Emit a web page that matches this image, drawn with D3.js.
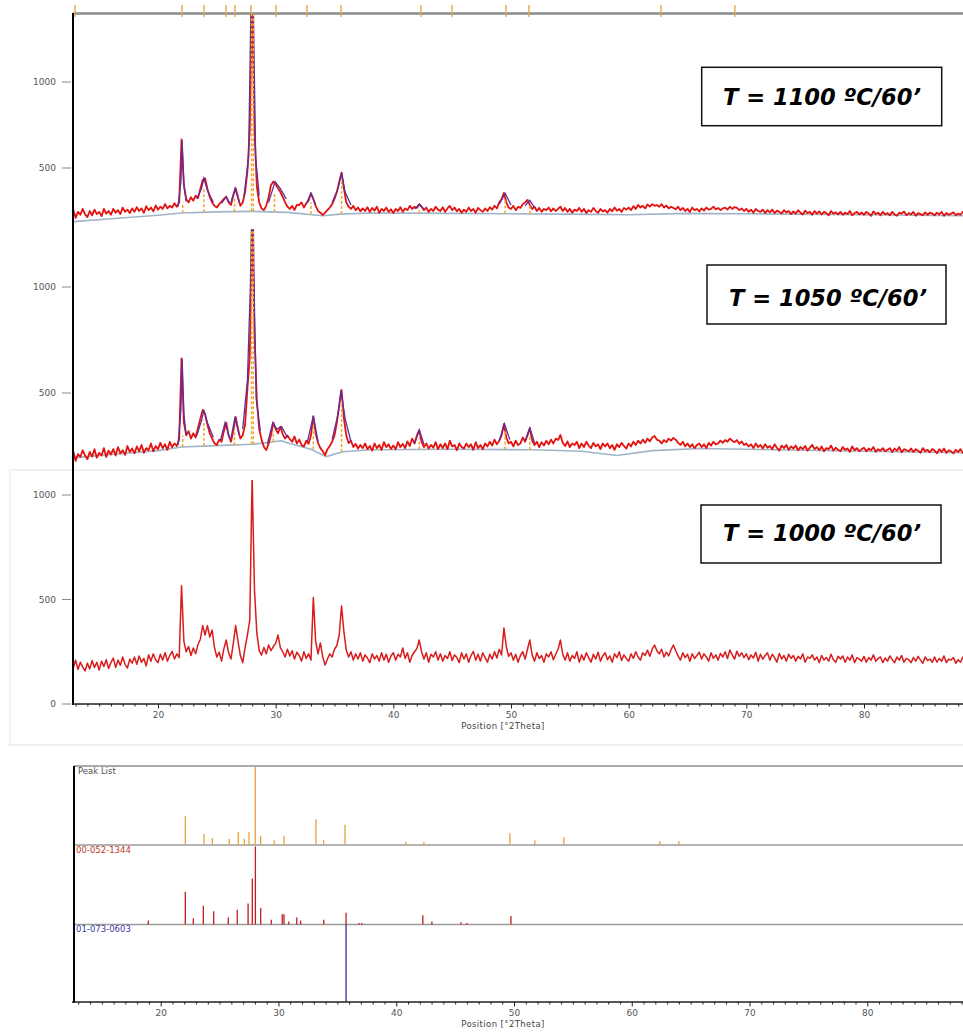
<!DOCTYPE html>
<html>
<head>
<meta charset="utf-8">
<script src="https://cdn.jsdelivr.net/npm/d3@7"></script>
<style>
  body { margin: 0; background: #fff; }
  svg { display: block; }
  text { font-family: "DejaVu Sans", sans-serif; }
</style>
</head>
<body>
<svg id="chart" width="963" height="1035"></svg>
<script>
// ------------------------------------
// Data (scan: 12.0 °2θ, step 0.2)
// ------------------------------------
const scanStart = 12.0;
const scanStep = 0.2;

const counts1100 = [
  240,215,250,222,258,210,245,228,262,230,
  215,250,225,258,232,245,220,262,235,250,
  228,262,240,255,232,270,245,258,238,265,
  245,272,250,265,240,278,255,270,248,282,
  258,275,262,290,265,280,270,295,275,300,
  667,400,320,300,330,310,340,325,380,430,
  440,380,330,300,280,271,290,305,320,333,
  300,285,340,382,330,280,300,360,480,721,
  1450,721,391,300,265,256,280,330,400,421,
  405,382,360,333,300,275,262,280,256,285,
  285,300,270,295,310,353,320,280,250,240,
  227,240,255,270,290,320,360,420,473,380,
  300,275,262,280,255,270,248,265,250,272,
  245,268,252,275,240,262,250,270,245,260,
  238,262,250,272,245,265,255,280,262,275,
  268,290,275,255,270,245,262,250,275,258,
  250,272,245,265,280,255,270,248,262,240,
  258,245,270,250,262,240,268,255,245,265,
  250,272,258,280,265,300,320,355,300,270,
  262,280,255,275,268,290,300,314,285,262,
  275,250,268,245,262,255,270,248,265,250,
  262,275,250,268,245,262,240,258,250,268,
  245,262,238,255,245,268,250,240,262,248,
  255,240,262,248,270,252,262,245,268,258,
  270,255,278,262,285,270,280,265,288,275,
  290,280,285,275,290,270,282,265,275,268,
  260,275,255,268,250,262,245,270,255,262,
  248,265,252,270,258,262,275,260,268,255,
  265,270,258,275,262,273,268,255,265,250,
  262,245,258,240,262,250,245,258,238,255,
  242,258,238,252,245,235,255,242,250,232,
  248,235,255,240,230,252,238,245,228,250,
  235,248,230,245,238,225,250,235,242,230,
  245,228,240,232,250,225,238,245,230,242,
  228,245,235,222,248,232,240,225,245,230,
  238,225,245,230,222,240,235,248,225,238,
  230,245,222,238,232,225,242,228,240,235,
  225,240,230,245,222,238,228,235,242,225,
  235,228,245,230,238
];

const counts1050 = [
  215,185,220,192,225,180,212,198,230,205,
  188,222,200,235,195,218,205,240,198,228,
  210,235,205,245,215,230,208,250,222,238,
  215,248,225,255,218,240,230,262,225,250,
  235,265,240,258,232,270,245,262,250,280,
  663,360,300,320,285,310,290,335,380,420,
  400,350,310,285,262,255,280,270,320,360,
  300,270,320,387,330,285,300,350,520,671,
  1300,783,467,330,280,245,231,260,300,360,
  330,310,341,305,285,300,283,270,295,262,
  280,255,247,275,260,300,391,310,265,240,
  225,207,235,250,270,300,360,440,514,380,
  300,264,275,245,260,238,255,240,262,235,
  250,228,262,240,255,232,268,245,258,236,
  252,235,268,245,260,240,272,250,285,262,
  300,325,270,245,262,238,255,242,268,235,
  258,240,262,235,275,248,255,230,262,245,
  238,262,245,258,232,268,240,255,235,262,
  248,270,252,280,258,275,300,354,290,262,
  270,248,275,255,262,290,270,300,335,275,
  255,270,245,268,252,275,258,280,262,285,
  278,302,265,250,272,245,262,255,270,240,
  262,245,270,252,240,265,248,258,235,262,
  248,262,240,255,232,258,245,265,250,238,
  262,248,270,255,275,262,280,265,285,272,
  290,297,280,275,262,278,268,285,275,288,
  280,265,255,270,248,262,245,258,240,255,
  262,245,258,240,265,252,270,258,262,275,
  265,278,270,285,275,268,278,260,272,255,
  262,248,258,240,262,245,255,238,258,242,
  250,235,258,242,228,252,240,255,232,248,
  238,252,230,245,235,250,228,242,255,235,
  245,230,248,225,240,235,252,228,242,232,
  225,245,232,238,222,248,230,240,225,235,
  242,225,238,230,245,222,235,228,240,225,
  232,240,222,238,228,245,220,235,230,225,
  238,222,235,228,218,240,225,232,220,236,
  228,215,235,222,238,218,230,225,215,232,
  222,235,218,228,225
];

const counts1000 = [
  170,205,160,198,172,210,165,200,178,158,
  195,168,208,175,200,162,205,180,212,170,
  198,220,175,210,185,225,190,172,215,195,
  225,190,230,200,218,182,235,205,240,212,
  198,238,210,245,205,232,252,215,240,222,
  566,300,250,275,232,268,240,285,310,375,
  330,375,320,354,270,225,248,205,265,306,
  245,215,290,375,300,232,198,270,330,402,
  1090,545,340,255,234,270,240,282,255,275,
  290,330,270,250,225,262,230,255,215,248,
  232,205,250,218,240,210,510,300,240,292,
  225,187,215,240,225,262,280,330,469,345,
  258,225,250,210,240,215,245,205,235,220,
  198,240,215,232,205,245,210,238,200,230,
  245,210,238,225,268,218,245,200,232,250,
  265,306,250,215,245,200,238,225,250,210,
  240,205,232,218,250,208,235,222,198,245,
  215,240,200,232,252,210,238,205,245,222,
  200,238,215,250,220,262,235,364,275,228,
  245,210,238,200,232,250,215,262,306,235,
  205,245,218,232,200,240,225,250,212,238,
  262,306,238,210,245,205,232,218,250,200,
  235,210,245,222,200,238,215,248,205,230,
  245,212,230,200,240,222,250,208,235,218,
  205,240,218,250,225,210,245,232,258,228,
  262,282,255,240,262,225,248,230,260,282,
  255,230,210,245,222,238,205,240,218,232,
  248,215,240,225,205,245,218,235,210,242,
  225,250,218,258,235,215,252,228,245,222,
  240,212,235,220,248,205,238,215,232,245,
  210,238,222,200,242,215,232,205,238,218,
  232,205,228,215,240,200,225,218,235,210,
  225,198,232,210,222,205,238,212,200,228,
  215,230,200,225,210,235,198,222,215,205,
  228,200,222,210,235,205,218,225,198,220,
  205,230,212,198,225,210,232,200,218,212,
  198,222,205,228,210,195,225,208,215,200,
  225,200,218,205,230,198,215,210,222,195,
  212,200,225,205,215
];

// fitted profiles around the peaks [°2θ, counts]
const fit1100 = [
  [[21.7,275],[21.95,420],[22.05,660],[22.2,400],[22.4,305]],
  [[23.3,320],[23.7,380],[23.9,440],[24.2,370],[24.7,300]],
  [[25.4,295],[25.8,333],[26.1,295]],
  [[26.2,300],[26.55,382],[26.9,300]],
  [[27.3,330],[27.7,560],[27.9,1450],[28.1,1450],[28.3,560],[28.6,340]],
  [[29.4,300],[29.95,421],[30.4,380],[30.9,320]],
  [[32.6,290],[33.0,353],[33.4,285]],
  [[34.8,300],[35.3,380],[35.6,473],[35.9,360],[36.4,285]],
  [[41.8,262],[42.2,288],[42.6,262]],
  [[49.0,290],[49.5,352],[50.0,285]],
  [[51.2,280],[51.6,312],[52.0,270]]
];
const fit1050 = [
  [[21.7,255],[21.95,420],[22.05,663],[22.2,400],[22.4,300]],
  [[23.3,300],[23.7,370],[23.9,420],[24.2,360],[24.7,290]],
  [[25.3,275],[25.7,360],[26.1,285]],
  [[26.2,285],[26.55,387],[26.9,300]],
  [[27.2,330],[27.6,560],[27.85,1000],[27.95,1300],[28.1,1300],[28.2,900],[28.35,470],[28.7,320]],
  [[29.3,260],[29.75,360],[30.1,330],[30.5,341],[31.0,290]],
  [[32.7,270],[33.2,391],[33.6,270]],
  [[34.8,280],[35.3,400],[35.55,514],[35.9,380],[36.4,270]],
  [[41.8,260],[42.2,325],[42.6,258]],
  [[49.0,275],[49.45,354],[49.9,280]],
  [[51.2,275],[51.6,335],[52.0,265]]
];

// background lines [°2θ, counts]
const bg1100 = [[12.8,188],[16,205],[20,225],[22,238],[25,245],[28,248],[31,242],[34,222],[35.5,232],[38,238],[45,236],[55,232],[60,228],[65,236],[70,234],[80,228],[88.6,222]];
const bg1050 = [[12.8,195],[16,210],[20,228],[22,245],[25,252],[28,258],[30.5,275],[31.2,262],[33,235],[34.3,200],[35.7,223],[38,232],[45,235],[52,232],[56,225],[59,205],[62,228],[66,238],[70,235],[80,225],[88.6,218]];

// peak markers [°2θ, from, to]
const marks1100 = [[22.1,238,300],[23.9,243,380],[26.5,246,330],[27.95,248,1450],[28.1,248,1450],[29.9,244,360],[33.0,232,300],[35.6,232,420],[42.2,237,270],[49.5,236,320],[51.6,234,290]];
const marks1050 = [[22.1,245,300],[23.9,250,370],[26.5,254,330],[27.95,258,1300],[28.1,258,1300],[29.8,270,320],[33.2,235,340],[35.6,222,460],[42.2,233,290],[49.5,234,320],[51.6,232,300]];

// reference pattern positions above the top scan
const topMarks = [12.95,22.04,23.9,25.78,26.54,27.9,30.03,32.66,35.55,42.34,44.98,49.57,51.52,62.74,69.02];

// peak list / reference patterns [°2θ, relative intensity %]
const peakList = [[22.09,37],[23.68,14],[24.38,9],[25.82,8],[26.59,17],[27.10,8],[27.50,17],[28.03,100],[28.49,12],[29.64,6],[30.47,12],[33.18,33],[33.84,6],[35.65,26],[40.82,4],[42.35,4],[49.65,15],[51.77,6],[54.23,10],[62.38,5],[64.0,5]];
const ref0521344 = [[18.95,5],[22.09,42],[22.77,8],[23.62,24],[24.5,17],[25.74,9],[26.5,19],[27.42,27],[27.78,59],[28.04,100],[28.49,21],[29.39,6],[30.32,13],[30.47,13],[30.87,4],[31.55,9],[31.88,5],[33.85,6],[35.74,15],[36.83,2],[37.08,2],[42.26,12],[43.03,4],[45.5,3],[46.0,2],[49.74,11]];
const ref0730603 = [[35.74,100]];

const yTicksUpper = [500, 1000];
const yTicksLower = [0, 500, 1000];
const xMajor = [20, 30, 40, 50, 60, 70, 80];
const panelLabels = ["T = 1100 ºC/60’", "T = 1050 ºC/60’", "T = 1000 ºC/60’"];
const listLabels = ["Peak List", "00-052-1344", "01-073-0603"];

// ------------------------------------
// Setup
// ------------------------------------
const svg = d3.select("#chart");
const xTop = d3.scaleLinear().domain([20, 80]).range([158, 864]);
const xBot = d3.scaleLinear().domain([20, 80]).range([160.7, 867.3]);
const toPoints = arr => arr.map((v, i) => [scanStart + i * scanStep, v]);

const panels = [
  { id: "p1100", counts: counts1100, fit: fit1100, bg: bg1100, marks: marks1100,
    y: d3.scaleLinear().domain([0, 1000]).range([254, 82]), top: 14, bottom: 229, ticks: yTicksUpper,
    label: panelLabels[0], box: [701.7, 67.3, 240, 58.4], tx: 723, ty: 105 },
  { id: "p1050", counts: counts1050, fit: fit1050, bg: bg1050, marks: marks1050,
    y: d3.scaleLinear().domain([0, 1000]).range([499, 287]), top: 229, bottom: 480, ticks: yTicksUpper,
    label: panelLabels[1], box: [707, 265, 239, 59], tx: 729, ty: 306 },
  { id: "p1000", counts: counts1000, fit: null, bg: null, marks: null,
    y: d3.scaleLinear().domain([0, 1000]).range([704, 495]), top: 480, bottom: 704, ticks: yTicksLower,
    label: panelLabels[2], box: [701, 505, 240, 58], tx: 723, ty: 541 }
];

const defs = svg.append("defs");

// faint window frame around the lowest scan
svg.append("rect")
  .attr("x", 10).attr("y", 470).attr("width", 960).attr("height", 275)
  .attr("fill", "none").attr("stroke", "#ececec").attr("stroke-width", 1.5);

// top reference line with pattern ticks
svg.append("line")
  .attr("x1", 73).attr("x2", 963).attr("y1", 13.5).attr("y2", 13.5)
  .attr("stroke", "#8c8c8c").attr("stroke-width", 2.5);

svg.selectAll(".top-mark")
  .data(topMarks)
  .join("line")
  .attr("class", "top-mark")
  .attr("x1", d => xTop(d)).attr("x2", d => xTop(d))
  .attr("y1", 5).attr("y2", 17)
  .attr("stroke", "#e2aa50").attr("stroke-width", 1.4);

// ------------------------------------
// Scan panels
// ------------------------------------
panels.forEach(p => {
  defs.append("clipPath").attr("id", "clip-" + p.id)
    .append("rect")
    .attr("x", 74).attr("y", p.top)
    .attr("width", 963 - 74).attr("height", p.bottom - p.top);

  const g = svg.append("g").attr("clip-path", `url(#clip-${p.id})`);
  const line = d3.line().x(d => xTop(d[0])).y(d => p.y(d[1]));

  if (p.bg) {
    g.append("path")
      .datum(p.bg)
      .attr("fill", "none")
      .attr("stroke", "#9fb4c8")
      .attr("stroke-width", 1.6)
      .attr("d", line);
  }

  g.append("path")
    .datum(toPoints(p.counts))
    .attr("fill", "none")
    .attr("stroke", p.fit ? "#e3120f" : "#d81c1c")
    .attr("stroke-width", p.fit ? 1.8 : 1.5)
    .attr("stroke-linejoin", "round")
    .attr("d", line);

  if (p.fit) {
    g.selectAll(".fit")
      .data(p.fit)
      .join("path")
      .attr("class", "fit")
      .attr("fill", "none")
      .attr("stroke", "#5b2f9e")
      .attr("stroke-width", 1.3)
      .attr("d", line);

    g.selectAll(".mark")
      .data(p.marks)
      .join("line")
      .attr("class", "mark")
      .attr("x1", d => xTop(d[0])).attr("x2", d => xTop(d[0]))
      .attr("y1", d => p.y(d[1])).attr("y2", d => p.y(d[2]))
      .attr("stroke", "#f0a830")
      .attr("stroke-width", 1.5)
      .attr("stroke-dasharray", "3,2");
  }

  // y ticks
  const ty = svg.append("g");
  ty.selectAll("line")
    .data(p.ticks)
    .join("line")
    .attr("x1", 62).attr("x2", 71)
    .attr("y1", d => p.y(d)).attr("y2", d => p.y(d))
    .attr("stroke", "#888").attr("stroke-width", 1);
  ty.selectAll("text")
    .data(p.ticks)
    .join("text")
    .attr("x", 56)
    .attr("y", d => p.y(d))
    .attr("dy", "0.35em")
    .attr("text-anchor", "end")
    .attr("font-size", 9)
    .attr("fill", "#555")
    .text(d => d);

  // label box
  svg.append("rect")
    .attr("x", p.box[0]).attr("y", p.box[1])
    .attr("width", p.box[2]).attr("height", p.box[3])
    .attr("fill", "#fff").attr("stroke", "#111").attr("stroke-width", 1.5);
  svg.append("text")
    .attr("x", p.tx).attr("y", p.ty)
    .attr("font-family", "'Open Sans', 'Liberation Sans', sans-serif")
    .attr("font-weight", 700)
    .attr("font-style", "italic")
    .attr("font-size", 23)
    .attr("textLength", 198)
    .attr("lengthAdjust", "spacingAndGlyphs")
    .attr("fill", "#000")
    .text(p.label);
});

// left axis line
svg.append("line")
  .attr("x1", 73).attr("x2", 73).attr("y1", 13).attr("y2", 705)
  .attr("stroke", "#000").attr("stroke-width", 2);

// ------------------------------------
// X axes
// ------------------------------------
function drawXAxis(x, yPos) {
  const minor = d3.range(13, 89).filter(v => v % 10 !== 0);
  const gMinor = svg.append("g")
    .attr("transform", `translate(0,${yPos})`)
    .call(d3.axisBottom(x).tickValues(minor).tickSize(2.5).tickFormat(""));
  gMinor.select(".domain").remove();
  gMinor.selectAll("line").attr("stroke", "#222");

  const gMajor = svg.append("g")
    .attr("transform", `translate(0,${yPos})`)
    .call(d3.axisBottom(x).tickValues(xMajor).tickSize(4.5).tickPadding(3).tickFormat(d3.format("d")));
  gMajor.select(".domain").remove();
  gMajor.selectAll("line").attr("stroke", "#222");
  gMajor.selectAll("text")
    .attr("font-family", "'DejaVu Sans', sans-serif")
    .attr("font-size", 9)
    .attr("fill", "#555");

  svg.append("line")
    .attr("x1", 72).attr("x2", 963).attr("y1", yPos).attr("y2", yPos)
    .attr("stroke", "#222").attr("stroke-width", 1.6);

  svg.append("text")
    .attr("x", 503).attr("y", yPos + 25)
    .attr("text-anchor", "middle")
    .attr("font-size", 8.5)
    .attr("letter-spacing", 0.4)
    .attr("fill", "#444")
    .text("Position [°2Theta]");
}

drawXAxis(xTop, 704);

// ------------------------------------
// Peak list panel
// ------------------------------------
const listTop = 766;
const yList = d3.scaleLinear().domain([0, 100]).range([845, 767]);
const yRefA = d3.scaleLinear().domain([0, 100]).range([924.5, 846.5]);
const yRefB = d3.scaleLinear().domain([0, 100]).range([924.5, 1002]);

svg.append("line")
  .attr("x1", 74).attr("x2", 963).attr("y1", listTop).attr("y2", listTop)
  .attr("stroke", "#555").attr("stroke-width", 1);

[845, 924.5].forEach(yy => {
  svg.append("line")
    .attr("x1", 74).attr("x2", 963).attr("y1", yy).attr("y2", yy)
    .attr("stroke", "#9a9a9a").attr("stroke-width", 1.5);
});

function drawSticks(data, y, color) {
  svg.append("g")
    .selectAll("line")
    .data(data)
    .join("line")
    .attr("x1", d => xBot(d[0])).attr("x2", d => xBot(d[0]))
    .attr("y1", y(0)).attr("y2", d => y(d[1]))
    .attr("stroke", color)
    .attr("stroke-width", 1.3);
}
drawSticks(peakList, yList, "#e8a23a");
drawSticks(ref0521344, yRefA, "#c01e1e");
drawSticks(ref0730603, yRefB, "#2c2c9a");

svg.append("text").attr("x", 78).attr("y", 774).attr("font-size", 8.5).attr("fill", "#555").text(listLabels[0]);
svg.append("text").attr("x", 76).attr("y", 853).attr("font-size", 8.5).attr("fill", "#c0392b").text(listLabels[1]);
svg.append("text").attr("x", 76).attr("y", 932).attr("font-size", 8.5).attr("fill", "#3b3ba8").text(listLabels[2]);

svg.append("line")
  .attr("x1", 74).attr("x2", 74).attr("y1", listTop).attr("y2", 1003)
  .attr("stroke", "#000").attr("stroke-width", 2);

drawXAxis(xBot, 1002);
</script>
</body>
</html>
